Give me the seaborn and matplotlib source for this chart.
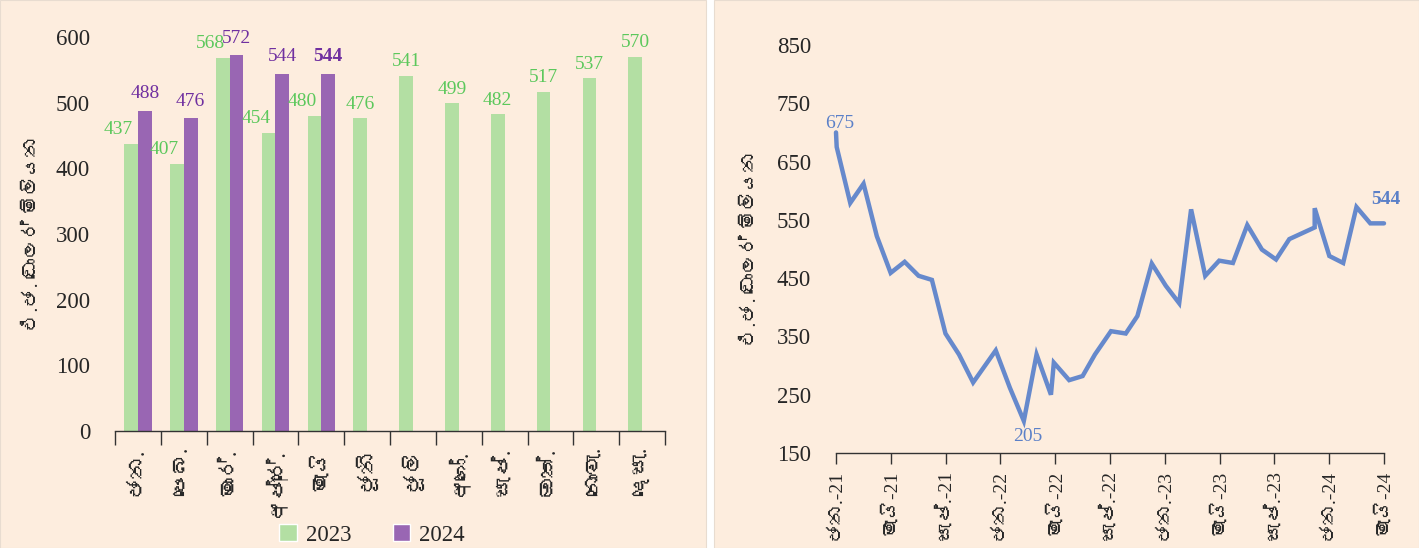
import numpy as np
import pandas as pd
import seaborn as sns
import matplotlib
matplotlib.use("Agg")
import matplotlib.pyplot as plt
from matplotlib.patches import Patch, Rectangle
from matplotlib import font_manager as fm

# ---------------- data ----------------
months = ['ජන.', 'පෙබ.', 'මාර්.', 'අප්‍රේ.', 'මැයි', 'ජූනි', 'ජූලි',
          'අගෝ.', 'සැප්.', 'ඔක්.', 'නොවැ.', 'දෙසැ.']
vals_2023 = [437, 407, 568, 454, 480, 476, 541, 499, 482, 517, 537, 570]
vals_2024 = [488, 476, 572, 544, 544, np.nan, np.nan, np.nan, np.nan, np.nan, np.nan, np.nan]
years = ['2023', '2024']

# line chart: position in months since Jan-2021 and values
line_pos = [0.0, 0.05, 1.04, 2.01, 2.98, 3.99, 5.01, 6.03, 7.0, 7.99, 8.98, 10.01,
            11.66, 12.69, 13.71, 14.64, 15.69, 15.9, 17.02, 18.0, 18.9, 20.07, 21.15,
            22.0, 23.05, 24.07, 25.05, 25.92, 26.95, 27.97, 28.97, 30.02, 31.09, 32.12,
            33.09, 34.94, 34.94, 36.01, 37.02, 37.99, 39.0, 40.0]
line_vals = [700, 675, 579, 612, 522, 459, 478, 454, 447, 355, 319, 271,
             326, 262, 205, 319, 250, 305, 275, 282, 319, 359, 355,
             385, 475, 437, 407, 568, 454, 480, 476, 541, 499, 482,
             517, 537, 570, 488, 476, 572, 544, 544]
line_tick_pos = [0, 4, 8, 12, 16, 20, 24, 28, 32, 36, 40]
line_tick_labels = ['ජන.-21', 'මැයි-21', 'සැප්.-21', 'ජන.-22', 'මැයි-22', 'සැප්.-22',
                    'ජන.-23', 'මැයි-23', 'සැප්.-23', 'ජන.-24', 'මැයි-24']
ylabel_text = 'එ.ජ. ඩොලර් මිලියන'

# ---------------- fonts ----------------
sinhala_font = None
try:
    from fontTools.ttLib import TTFont
    for f in fm.fontManager.ttflist:
        try:
            kw = {'fontNumber': 0} if f.fname.lower().endswith(('.ttc', '.otc')) else {}
            tt = TTFont(f.fname, lazy=True, **kw)
            cmap = tt.getBestCmap()
            if cmap and 0x0DA2 in cmap and 0x0D91 in cmap and 0x0DCA in cmap:
                sinhala_font = f.name
                break
        except Exception:
            pass
except Exception:
    pass

sns.set_theme(style="white")
fam = ['Liberation Serif'] + ([sinhala_font] if sinhala_font else []) + ['DejaVu Sans']
plt.rcParams['font.family'] = fam

BG = '#FDEDDE'
GREEN = '#B3DFA3'
PURPLE = '#9966B3'
GREEN_TXT = '#5CC85C'
PURPLE_TXT = '#7030A0'
BLUE = '#6689CC'
BLUE_TXT = '#5B80C8'

W, H = 1419, 548
fig = plt.figure(figsize=(W / 100, H / 100), dpi=100, facecolor='white')
fig.patches.append(Rectangle((0, 0), 706 / W, 1, transform=fig.transFigure,
                             facecolor=BG, edgecolor='#E8DCD0', lw=0.8, zorder=-10))
fig.patches.append(Rectangle((714 / W, 0), 1 - 714 / W, 1, transform=fig.transFigure,
                             facecolor=BG, edgecolor='#E8DCD0', lw=0.8, zorder=-10))

# ---------------- bar chart ----------------
ax1 = fig.add_axes([115 / W, 1 - 431 / H, 550 / W, 394 / H])
ax1.set_facecolor('none')
df = pd.DataFrame({
    'month': months * 2,
    'value': vals_2023 + vals_2024,
    'year': [years[0]] * 12 + [years[1]] * 12,
})
sns.barplot(data=df, x='month', y='value', hue='year', order=months, hue_order=years,
            palette=[GREEN, PURPLE], width=0.6, saturation=1, ax=ax1, legend=False,
            edgecolor='none')
ax1.set_ylim(0, 600)
ax1.set_xlim(-0.5, 11.5)
ax1.set_yticks(range(0, 601, 100))
ax1.set_yticklabels([str(v) for v in range(0, 601, 100)], fontsize=16.5)
ax1.set_xticks(range(12))
ax1.set_xticklabels(months, rotation=90, fontsize=15.5, va='top', ha='center')
ax1.set_xticks(np.arange(-0.5, 12, 1), minor=True)
ax1.tick_params(axis='x', which='major', length=0, pad=12)
ax1.tick_params(axis='x', which='minor', length=10, width=1, color='#333333', direction='out', bottom=True)
ax1.tick_params(axis='y', length=0, pad=18)
ax1.set_xlabel('')
ax1.set_ylabel(ylabel_text, fontsize=14, labelpad=10)
for s in ['left', 'top', 'right']:
    ax1.spines[s].set_visible(False)
ax1.spines['bottom'].set_color('#333333')
ax1.spines['bottom'].set_linewidth(1)

# value labels
for i, v in enumerate(vals_2023):
    has24 = not np.isnan(vals_2024[i])
    dx = -9 if has24 else 0
    ax1.annotate(str(v), (i - 0.15, v), xytext=(dx, 4), textcoords='offset points',
                 ha='center', va='bottom', fontsize=14, color=GREEN_TXT)
last24 = max(i for i, v in enumerate(vals_2024) if not np.isnan(v))
for i, v in enumerate(vals_2024):
    if np.isnan(v):
        continue
    ax1.annotate(str(int(v)), (i + 0.15, v), xytext=(0, 6), textcoords='offset points',
                 ha='center', va='bottom', fontsize=14, color=PURPLE_TXT,
                 fontweight='bold' if i == last24 else 'normal')

fig.legend(handles=[Patch(facecolor=GREEN, label=years[0]),
                    Patch(facecolor=PURPLE, label=years[1])],
           loc='center', bbox_to_anchor=(372 / W, 1 - 535 / H), ncol=2, frameon=False,
           fontsize=16.5, handlelength=0.75, handleheight=0.75, columnspacing=1.8,
           handletextpad=0.4)

# ---------------- line chart ----------------
ax2 = fig.add_axes([836 / W, 1 - 453 / H, 548 / W, 408 / H])
ax2.set_facecolor('none')
ldf = pd.DataFrame({'pos': line_pos, 'value': line_vals})
sns.lineplot(data=ldf, x='pos', y='value', sort=False, estimator=None, color=BLUE,
             linewidth=3.2, ax=ax2, solid_joinstyle='miter')
ax2.set_xlim(0, 40)
ax2.set_ylim(150, 850)
ax2.set_yticks(range(150, 851, 100))
ax2.set_yticklabels([str(v) for v in range(150, 851, 100)], fontsize=16.5)
ax2.set_xticks(line_tick_pos)
ax2.set_xticklabels(line_tick_labels, rotation=90, fontsize=14, va='top', ha='center')
ax2.tick_params(axis='x', length=8, width=1, color='#333333', direction='out', bottom=True, pad=4)
ax2.tick_params(axis='y', length=0, pad=18)
ax2.set_xlabel('')
ax2.set_ylabel(ylabel_text, fontsize=14, labelpad=12)
for s in ['left', 'top', 'right']:
    ax2.spines[s].set_visible(False)
ax2.spines['bottom'].set_color('#333333')
ax2.spines['bottom'].set_linewidth(1)
for ln in ax2.lines:
    ln.set_clip_on(False)

i_first = 1
i_min = int(np.argmin(line_vals))
i_last = len(line_vals) - 1
ax2.annotate(str(line_vals[i_first]), (line_pos[i_first], line_vals[i_first]), xytext=(2, 11),
             textcoords='offset points', ha='center', va='bottom', fontsize=14, color=BLUE_TXT)
ax2.annotate(str(line_vals[i_min]), (line_pos[i_min], line_vals[i_min]), xytext=(3, -5),
             textcoords='offset points', ha='center', va='top', fontsize=14, color=BLUE_TXT)
ax2.annotate(str(line_vals[i_last]), (line_pos[i_last], line_vals[i_last]), xytext=(1, 11),
             textcoords='offset points', ha='center', va='bottom', fontsize=14, color=BLUE_TXT,
             fontweight='bold')

fig.savefig('out.png', dpi=100, facecolor='white')
